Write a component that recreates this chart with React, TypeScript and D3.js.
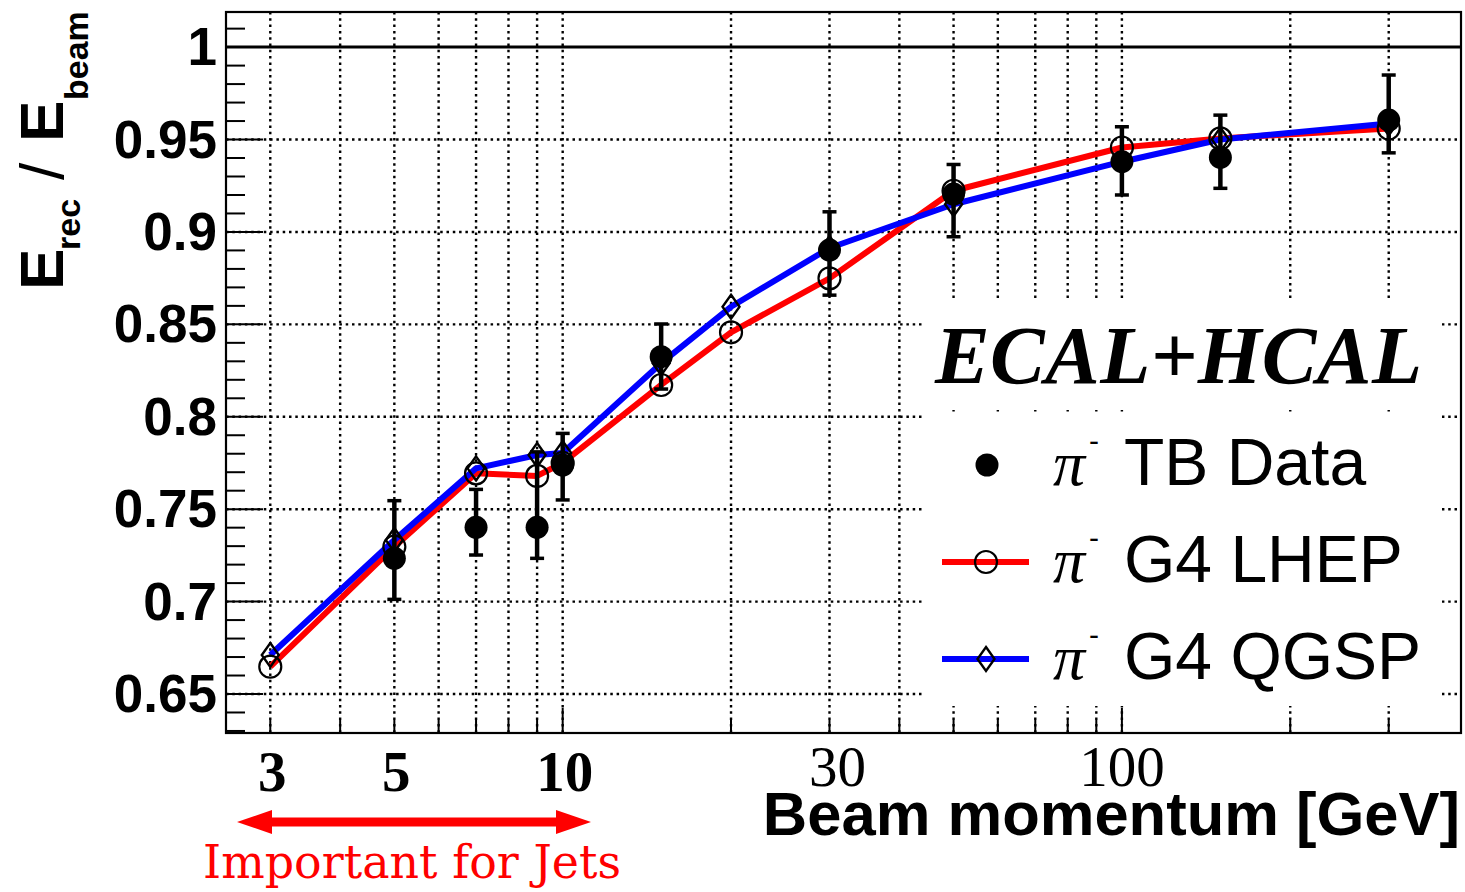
import React from 'react';
import * as d3 from 'd3';

// ---------- data ----------
const simEnergies = [3, 5, 7, 9, 10, 15, 20, 30, 50, 100, 150, 300];
const lhepValues = [0.6648, 0.7297, 0.7694, 0.768, 0.775, 0.8172, 0.8457, 0.8749, 0.9223, 0.9457, 0.9506, 0.956];
const qgspValues = [0.6711, 0.7333, 0.7721, 0.7793, 0.7804, 0.829, 0.8595, 0.8913, 0.915, 0.938, 0.950, 0.9587];

const dataEnergies = [5, 7, 9, 10, 15, 30, 50, 100, 150, 300];
const dataValues = [0.7234, 0.7402, 0.7402, 0.7739, 0.8325, 0.8902, 0.9205, 0.938, 0.9403, 0.9605];
const dataLow = [0.7012, 0.7252, 0.7234, 0.755, 0.815, 0.8658, 0.8974, 0.92, 0.9236, 0.9428];
const dataHigh = [0.7546, 0.7607, 0.781, 0.791, 0.8502, 0.9109, 0.9365, 0.9569, 0.9632, 0.9849];

const xGridValues = [3, 4, 5, 6, 7, 8, 9, 10, 20, 30, 40, 50, 60, 70, 80, 90, 100, 200, 300];
const xMajorTicks = [10, 100];
const xBoldLabels = [3, 5, 10];
const xPlainLabels = [30, 100];
const yMajorTicks = [0.65, 0.7, 0.75, 0.8, 0.85, 0.9, 0.95, 1];
const yTickLabels = ['0.65', '0.7', '0.75', '0.8', '0.85', '0.9', '0.95', '1'];

const legendEntries = ['TB Data', 'G4 LHEP', 'G4 QGSP'];

// ---------- layout ----------
const W = 1465, H = 892;
const L = 226, R = 1461, T = 12, B = 733;

export default function App() {
  const x = d3.scaleLog().domain([2.5, 404]).range([L, R]);
  const y = d3.scaleLinear().domain([0.6289, 1.019]).range([B, T]);

  const yMinor = d3.range(63, 102).map((v) => v / 100);
  const line = d3.line<[number, number]>().x((d) => x(d[0])).y((d) => y(d[1]));
  const lhepPts = simEnergies.map((e, i) => [e, lhepValues[i]] as [number, number]);
  const qgspPts = simEnergies.map((e, i) => [e, qgspValues[i]] as [number, number]);

  const diamond = (cx: number, cy: number) =>
    `M${cx},${cy - 12}L${cx + 8.5},${cy}L${cx},${cy + 12}L${cx - 8.5},${cy}Z`;

  const grid = '#000';
  const sans = 'Liberation Sans, Arial, sans-serif';
  const serif = 'Liberation Serif, Times New Roman, serif';

  const legendRows = [465, 562, 659];
  const legendBaselines = [485, 582, 679];

  return (
    <svg width={W} height={H} style={{ position: 'absolute', left: 0, top: 0, background: '#fff' }}>
      <rect x={0} y={0} width={W} height={H} fill="#fff" />
      {/* grid */}
      {xGridValues.map((v) => (
        <line key={'gx' + v} x1={x(v)} x2={x(v)} y1={T} y2={B} stroke={grid} strokeWidth={2.4} strokeDasharray="2.5,3.8" />
      ))}
      {yMajorTicks.slice(0, -1).map((v) => (
        <line key={'gy' + v} x1={L} x2={R} y1={y(v)} y2={y(v)} stroke={grid} strokeWidth={2.4} strokeDasharray="2.5,3.8" />
      ))}
      {/* y=1 reference */}
      <line x1={L} x2={R} y1={y(1)} y2={y(1)} stroke="#000" strokeWidth={3} />

      {/* white boxes for title and legend */}
      <rect x={922} y={299} width={520} height={111} fill="#fff" />
      <rect x={922} y={414} width={520} height={292} fill="#fff" />

      {/* y ticks */}
      {yMinor.map((v) => {
        const major = yMajorTicks.some((m) => Math.abs(m - v) < 1e-6);
        return (
          <line key={'yt' + v} x1={L} x2={L + (major ? 37 : 19)} y1={y(v)} y2={y(v)} stroke="#000" strokeWidth={2} />
        );
      })}
      {/* x ticks */}
      {xGridValues.map((v) => {
        const major = xMajorTicks.includes(v);
        return <line key={'xt' + v} x1={x(v)} x2={x(v)} y1={B} y2={B - (major ? 25 : 13)} stroke="#000" strokeWidth={2} />;
      })}

      {/* simulation lines */}
      <path d={line(lhepPts) || ''} fill="none" stroke="#ff0000" strokeWidth={6} strokeLinejoin="round" />
      <path d={line(qgspPts) || ''} fill="none" stroke="#0000ff" strokeWidth={6} strokeLinejoin="round" />

      {/* LHEP open circles */}
      {lhepPts.map((p, i) => (
        <circle key={'lc' + i} cx={x(p[0])} cy={y(p[1])} r={11} fill="none" stroke="#000" strokeWidth={2.2} />
      ))}
      {/* QGSP diamonds */}
      {qgspPts.map((p, i) => (
        <path key={'qd' + i} d={diamond(x(p[0]), y(p[1]))} fill="none" stroke="#000" strokeWidth={2.4} />
      ))}

      {/* data */}
      {dataEnergies.map((e, i) => {
        const cx = x(e);
        return (
          <g key={'d' + i}>
            <line x1={cx} x2={cx} y1={y(dataLow[i])} y2={y(dataHigh[i])} stroke="#000" strokeWidth={4.5} />
            <line x1={cx - 7} x2={cx + 7} y1={y(dataLow[i])} y2={y(dataLow[i])} stroke="#000" strokeWidth={3.5} />
            <line x1={cx - 7} x2={cx + 7} y1={y(dataHigh[i])} y2={y(dataHigh[i])} stroke="#000" strokeWidth={3.5} />
            <circle cx={cx} cy={y(dataValues[i])} r={11.5} fill="#000" />
          </g>
        );
      })}

      {/* frame */}
      <rect x={L} y={T} width={R - L} height={B - T} fill="none" stroke="#000" strokeWidth={2.2} />

      {/* y tick labels */}
      {yMajorTicks.map((v, i) => (
        <text key={'yl' + v} x={217} y={y(v) + 18} textAnchor="end" fontFamily={sans} fontWeight="bold" fontSize={53}>
          {yTickLabels[i]}
        </text>
      ))}

      {/* x tick labels */}
      {xBoldLabels.map((v) => (
        <text key={'xb' + v} x={x(v) + 2} y={791} textAnchor="middle" fontFamily={serif} fontWeight="bold" fontSize={57}>
          {v}
        </text>
      ))}
      {xPlainLabels.map((v) => (
        <text key={'xp' + v} x={x(v) + (v === 30 ? 8 : 0)} y={786} textAnchor="middle" fontFamily={serif} fontSize={57}>
          {v}
        </text>
      ))}

      {/* x axis title */}
      <text x={1460} y={835} textAnchor="end" fontFamily={sans} fontWeight="bold" fontSize={61.5}>
        Beam momentum [GeV]
      </text>

      {/* y axis title */}
      <g transform="translate(63,290) rotate(-90)" fontFamily={sans} fontWeight="bold">
        <text x={0} y={0} fontSize={62}>E</text>
        <text x={40} y={17} fontSize={34}>rec</text>
        <text x={110} y={0} fontSize={62} fontWeight="normal">/</text>
        <text x={148} y={0} fontSize={62}>E</text>
        <text x={190} y={25} fontSize={34}>beam</text>
      </g>

      {/* title */}
      <text x={935} y={383} fontFamily={serif} fontWeight="bold" fontStyle="italic" fontSize={82} textLength={487} lengthAdjust="spacing">
        ECAL+HCAL
      </text>

      {/* legend */}
      <circle cx={987} cy={legendRows[0]} r={11.5} fill="#000" />
      <line x1={942} x2={1029} y1={legendRows[1]} y2={legendRows[1]} stroke="#ff0000" strokeWidth={6} />
      <circle cx={986} cy={legendRows[1]} r={11} fill="none" stroke="#000" strokeWidth={2.2} />
      <line x1={942} x2={1029} y1={legendRows[2]} y2={legendRows[2]} stroke="#0000ff" strokeWidth={6} />
      <path d={diamond(986, legendRows[2])} fill="none" stroke="#000" strokeWidth={2.4} />
      {legendEntries.map((t, i) => (
        <g key={'le' + i}>
          <text x={1053} y={legendBaselines[i]} fontFamily={serif} fontStyle="italic" fontSize={64}>
            π
          </text>
          <text x={1089} y={legendBaselines[i] - 34} fontFamily={sans} fontSize={30}>
            -
          </text>
          <text x={1124} y={legendBaselines[i]} fontFamily={sans} fontSize={66}>
            {t}
          </text>
        </g>
      ))}

      {/* annotation */}
      <line x1={268} x2={560} y1={822} y2={822} stroke="#ff0000" strokeWidth={9} />
      <path d="M237,822L272,810L272,834Z" fill="#ff0000" />
      <path d="M591,822L556,810L556,834Z" fill="#ff0000" />
      <text x={203} y={878} fontFamily="DejaVu Serif, serif" fontSize={46} fill="#ff0000" textLength={418} lengthAdjust="spacingAndGlyphs">
        Important for Jets
      </text>
    </svg>
  );
}
